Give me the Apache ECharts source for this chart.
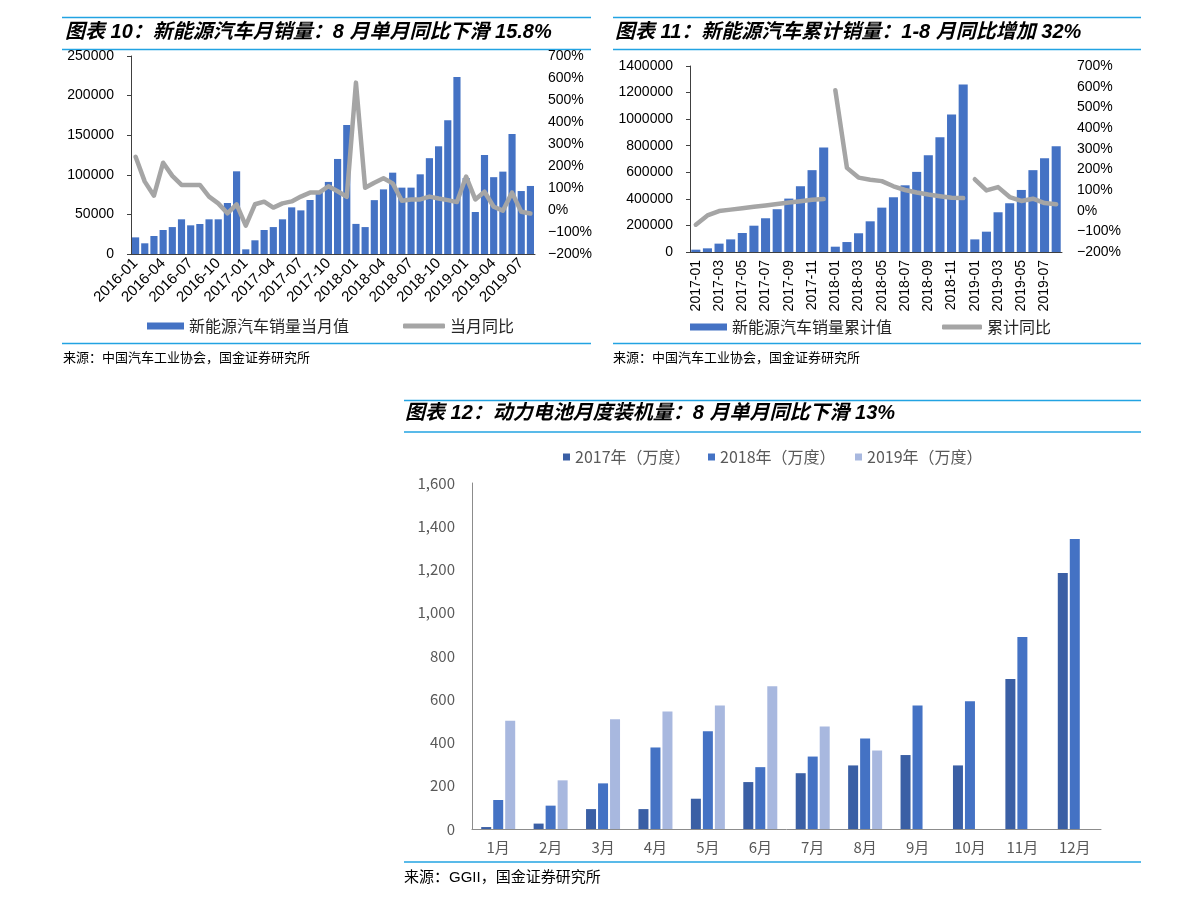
<!DOCTYPE html>
<html><head><meta charset="utf-8">
<script src="https://cdn.jsdelivr.net/npm/echarts/dist/echarts.min.js"></script>
<style>html,body{margin:0;padding:0;background:#fff}#c{width:1191px;height:905px}</style>
</head><body><div id="c"></div>
<script>
// ---------- Chart 1: monthly NEV sales ----------
const months1 = ['2016-01','2016-02','2016-03','2016-04','2016-05','2016-06','2016-07','2016-08','2016-09','2016-10','2016-11','2016-12',
  '2017-01','2017-02','2017-03','2017-04','2017-05','2017-06','2017-07','2017-08','2017-09','2017-10','2017-11','2017-12',
  '2018-01','2018-02','2018-03','2018-04','2018-05','2018-06','2018-07','2018-08','2018-09','2018-10','2018-11','2018-12',
  '2019-01','2019-02','2019-03','2019-04','2019-05','2019-06','2019-07','2019-08'];
const monthlySales = [21000,13500,22700,30300,34000,43800,36200,37900,43800,43800,64400,104400,
  5900,17300,30300,34000,43800,58900,55100,68200,77000,91000,120000,163000,
  38000,34000,68000,81600,102700,83800,83800,100600,121000,136000,169000,223500,
  96000,53000,125000,97000,104000,151500,79500,85900];
const monthlyYoy = [242,129,65,215,155,114,114,114,61,30,-15,26,
  -71,26,38,11,30,39,61,79,79,108,85,60,
  579,101,124,144,121,42,48,48,61,52,45,36,
  152,48,83,15,-3,79,-8,-16];

// ---------- Chart 2: cumulative NEV sales ----------
const months2 = ['2017-01','2017-02','2017-03','2017-04','2017-05','2017-06','2017-07','2017-08','2017-09','2017-10','2017-11','2017-12',
  '2018-01','2018-02','2018-03','2018-04','2018-05','2018-06','2018-07','2018-08','2018-09','2018-10','2018-11','2018-12',
  '2019-01','2019-02','2019-03','2019-04','2019-05','2019-06','2019-07','2019-08'];
const cumSales = [17600,27600,63000,95000,143000,198000,254000,322000,402000,495000,616000,786000,
  40000,75000,141000,231000,334000,412000,502000,603000,729000,864000,1035000,1261000,
  95000,153000,299000,367000,467000,616000,706000,796000];
const cumYoy = [-68,-23,-2,5,12,19,25,32,39,46,53,56,
  583,207,160,150,143,118,100,88,78,70,63,61,
  152,98,114,66,47,58,37,31];

// ---------- Chart 3: power battery installs ----------
const months3 = ['1月','2月','3月','4月','5月','6月','7月','8月','9月','10月','11月','12月'];
const bat2017 = [9,25,92,92,140,217,258,294,342,294,694,1184];
const bat2018 = [134,108,211,377,452,286,335,418,571,591,888,1341];
const bat2019 = [501,225,508,543,571,660,474,363,null,null,null,null];

const BLUE = '#4472C4', GRAY = '#A5A5A5', SEP = '#22A3E2';
const NUM = "'Liberation Sans','Noto Sans CJK SC',sans-serif";
const CJK = "'Noto Sans CJK SC',sans-serif";
const pct = v => (v < 0 ? '\u2212' : '') + Math.abs(v) + '%';
const plain = v => String(v);

function seg(arr, cats, year) {
  return arr.map((v, i) => cats[i].startsWith(year) ? v : null);
}

const chart = echarts.init(document.getElementById('c'));
const axisDark = { lineStyle: { color: '#404040', width: 1 } };

const titleStyle = { fontFamily: NUM, fontStyle: 'italic', fontWeight: 'bold', fontSize: 20, color: '#000', lineHeight: 24 };
const srcStyle = { fontFamily: CJK, fontWeight: 'normal', fontSize: 13, color: '#000', lineHeight: 16 };
const legText = { fontFamily: CJK, fontSize: 16, color: '#262626' };
const legText3 = { fontFamily: CJK, fontSize: 16, color: '#595959' };

const option = {
  animation: false,
  backgroundColor: '#fff',
  title: [
    { text: '图表 10：新能源汽车月销量：8 月单月同比下滑 15.8%', left: 65, top: 20, padding: 0, textStyle: titleStyle },
    { text: '图表 11：新能源汽车累计销量：1-8 月同比增加 32%', left: 615, top: 20, padding: 0, textStyle: titleStyle },
    { text: '图表 12：动力电池月度装机量：8 月单月同比下滑 13%', left: 405, top: 401, padding: 0, textStyle: titleStyle },
    { text: '来源：中国汽车工业协会，国金证券研究所', left: 63, top: 349, padding: 0, textStyle: srcStyle },
    { text: '来源：中国汽车工业协会，国金证券研究所', left: 613, top: 349, padding: 0, textStyle: srcStyle },
    { text: '来源：GGII，国金证券研究所', left: 404, top: 869, padding: 0, textStyle: Object.assign({}, srcStyle, { fontFamily: NUM, fontSize: 15, lineHeight: 18 }) }
  ],
  graphic: [
    [62, 591, 17.5], [62, 591, 49.5], [62, 591, 343.5],
    [613, 1141, 17.5], [613, 1141, 49.5], [613, 1141, 343.5],
    [404, 1141, 400.5], [404, 1141, 432], [404, 1141, 862]
  ].map(s => ({ type: 'line', silent: true, shape: { x1: s[0], y1: s[2], x2: s[1], y2: s[2] }, style: { stroke: SEP, lineWidth: 1.5 } })),
  legend: [
    { data: [{ name: '新能源汽车销量当月值', icon: 'rect' }], left: 147, top: 318, padding: 0, itemWidth: 37, itemHeight: 7, textStyle: legText },
    { data: [{ name: '当月同比', icon: 'roundRect' }], left: 403, top: 318, padding: 0, itemWidth: 42, itemHeight: 5, textStyle: legText },
    { data: [{ name: '新能源汽车销量累计值', icon: 'rect' }], left: 690, top: 319, padding: 0, itemWidth: 37, itemHeight: 7, textStyle: legText },
    { data: [{ name: '累计同比', icon: 'roundRect' }], left: 942, top: 319, padding: 0, itemWidth: 40, itemHeight: 5, textStyle: legText },
    { data: [{ name: '2017年（万度）', icon: 'rect' }], left: 563, top: 449, padding: 0, itemWidth: 7, itemHeight: 7, textStyle: legText3 },
    { data: [{ name: '2018年（万度）', icon: 'rect' }], left: 708, top: 449, padding: 0, itemWidth: 7, itemHeight: 7, textStyle: legText3 },
    { data: [{ name: '2019年（万度）', icon: 'rect' }], left: 855, top: 449, padding: 0, itemWidth: 7, itemHeight: 7, textStyle: legText3 }
  ],
  grid: [
    { left: 131, top: 56, width: 404, height: 198 },
    { left: 690, top: 66, width: 372, height: 186 },
    { left: 472, top: 483, width: 629, height: 346 }
  ],
  xAxis: [
    { gridIndex: 0, type: 'category', data: months1, axisLine: axisDark,
      axisTick: { interval: 2, length: 4, lineStyle: { color: '#404040' } },
      axisLabel: { interval: 2, rotate: 45, fontFamily: NUM, fontSize: 15, color: '#000', margin: 7 } },
    { gridIndex: 1, type: 'category', data: months2, axisLine: axisDark,
      axisTick: { interval: 1, length: 4, lineStyle: { color: '#404040' } },
      axisLabel: { interval: 1, rotate: 90, fontFamily: NUM, fontSize: 14, color: '#000', margin: 8 } },
    { gridIndex: 2, type: 'category', data: months3,
      axisLine: { lineStyle: { color: '#8C8C8C', width: 1 } },
      axisTick: { length: 4, lineStyle: { color: '#8C8C8C' } },
      axisLabel: { fontFamily: CJK, fontSize: 15, color: '#595959', margin: 11 } }
  ],
  yAxis: [
    { gridIndex: 0, type: 'value', min: 0, max: 250000, interval: 50000, splitLine: { show: false },
      axisLine: Object.assign({ show: true }, axisDark), axisTick: { show: true, length: 4, lineStyle: { color: '#404040' } },
      axisLabel: { fontFamily: NUM, fontSize: 14, color: '#000', margin: 17, formatter: plain } },
    { gridIndex: 0, type: 'value', position: 'right', min: -200, max: 700, interval: 100, splitLine: { show: false },
      axisLine: { show: false }, axisTick: { show: false },
      axisLabel: { fontFamily: NUM, fontSize: 14, color: '#000', margin: 13, formatter: pct } },
    { gridIndex: 1, type: 'value', min: 0, max: 1400000, interval: 200000, splitLine: { show: false },
      axisLine: Object.assign({ show: true }, axisDark), axisTick: { show: true, length: 4, lineStyle: { color: '#404040' } },
      axisLabel: { fontFamily: NUM, fontSize: 14, color: '#000', margin: 17, formatter: plain } },
    { gridIndex: 1, type: 'value', position: 'right', min: -200, max: 700, interval: 100, splitLine: { show: false },
      axisLine: { show: false }, axisTick: { show: false },
      axisLabel: { fontFamily: NUM, fontSize: 14, color: '#000', margin: 15, formatter: pct } },
    { gridIndex: 2, type: 'value', min: 0, max: 1600, interval: 200, splitLine: { show: false },
      axisLine: { show: true, lineStyle: { color: '#8C8C8C', width: 1 } }, axisTick: { show: false },
      axisLabel: { fontFamily: CJK, fontSize: 15, color: '#595959', margin: 17,
        formatter: v => v.toLocaleString('en-US') } }
  ],
  series: [
    { name: '新能源汽车销量当月值', type: 'bar', xAxisIndex: 0, yAxisIndex: 0, data: monthlySales,
      barCategoryGap: '22%', itemStyle: { color: BLUE } },
    { name: '当月同比', type: 'line', xAxisIndex: 0, yAxisIndex: 1, data: monthlyYoy, symbol: 'none',
      lineStyle: { color: GRAY, width: 4.5, cap: 'round', join: 'round' }, itemStyle: { color: GRAY } },
    { name: '新能源汽车销量累计值', type: 'bar', xAxisIndex: 1, yAxisIndex: 2, data: cumSales,
      barCategoryGap: '22%', itemStyle: { color: BLUE } },
    ...['2017', '2018', '2019'].map(y => ({
      name: '累计同比', type: 'line', xAxisIndex: 1, yAxisIndex: 3, data: seg(cumYoy, months2, y), symbol: 'none',
      lineStyle: { color: GRAY, width: 4.5, cap: 'round', join: 'round' }, itemStyle: { color: GRAY } })),
    { name: '2017年（万度）', type: 'bar', xAxisIndex: 2, yAxisIndex: 4, data: bat2017, barWidth: 10, barGap: '20%', itemStyle: { color: '#3A5FA5' } },
    { name: '2018年（万度）', type: 'bar', xAxisIndex: 2, yAxisIndex: 4, data: bat2018, barWidth: 10, barGap: '20%', itemStyle: { color: BLUE } },
    { name: '2019年（万度）', type: 'bar', xAxisIndex: 2, yAxisIndex: 4, data: bat2019, barWidth: 10, barGap: '20%', itemStyle: { color: '#A8B8DF' } }
  ]
};
chart.setOption(option);
</script>
</body></html>
